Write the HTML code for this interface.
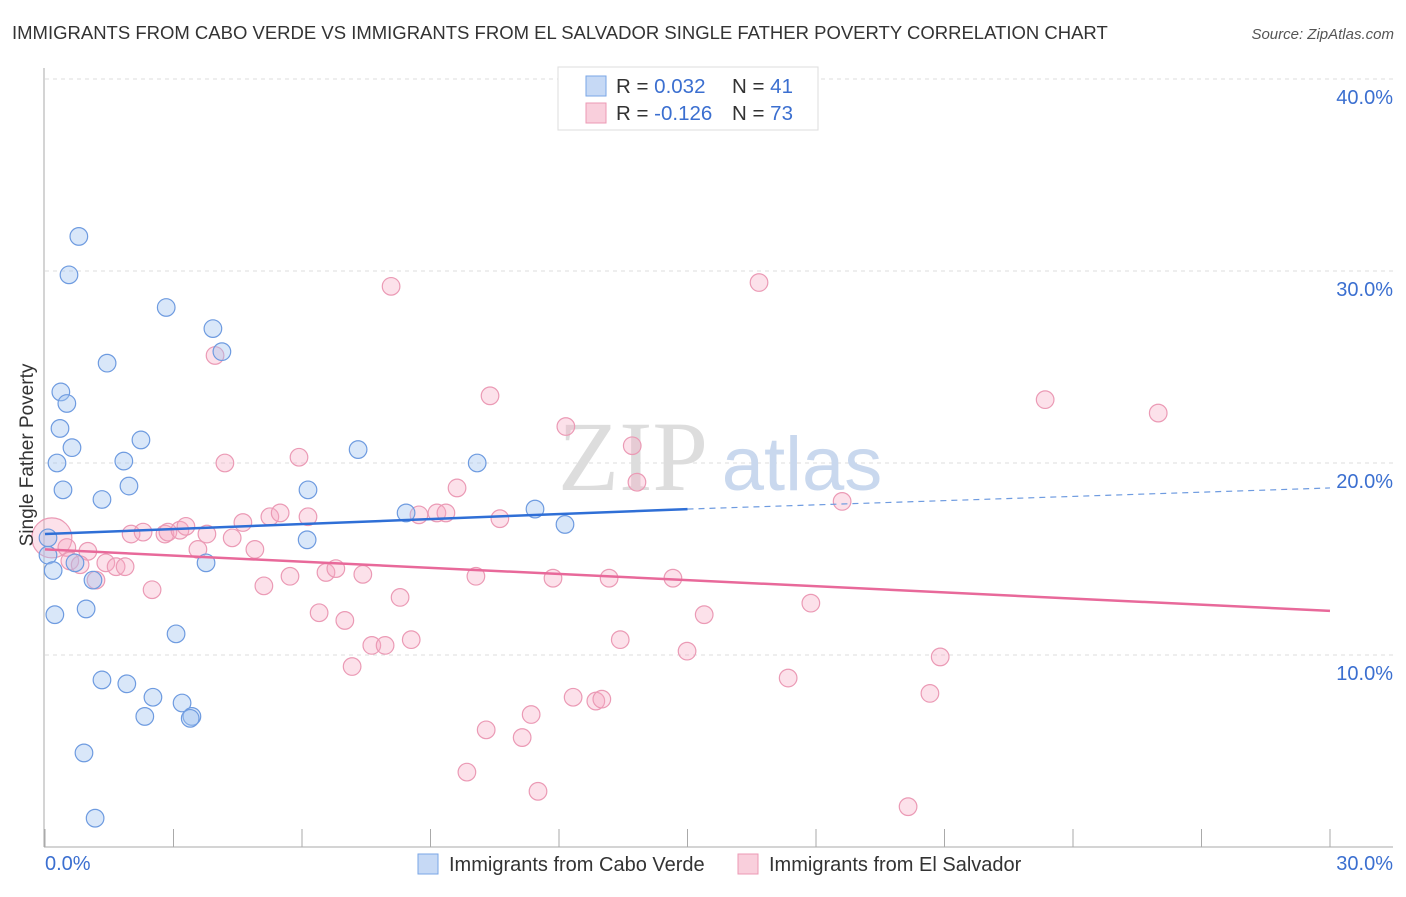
<!DOCTYPE html>
<html><head><meta charset="utf-8"><style>
body{margin:0;background:#fff;font-family:"Liberation Sans",sans-serif}
svg text{font-family:"Liberation Sans",sans-serif}
</style></head><body>
<svg width="1406" height="892" xmlns="http://www.w3.org/2000/svg">
<text x="12" y="39" font-size="18.5" fill="#333">IMMIGRANTS FROM CABO VERDE VS IMMIGRANTS FROM EL SALVADOR SINGLE FATHER POVERTY CORRELATION CHART</text>
<text x="1394" y="39" font-size="15" fill="#555" font-style="italic" text-anchor="end">Source: ZipAtlas.com</text>
<g id="grid"></g>
<text x="633" y="490" font-size="100" fill="#ddd" text-anchor="middle" style="font-family:'Liberation Serif',serif">ZIP</text>
<text x="802" y="490" font-size="76" fill="#c9d8ee" text-anchor="middle">atlas</text>
<g id="marks"></g>
<text x="33" y="455" font-size="19" fill="#333" text-anchor="middle" transform="rotate(-90 33 455)">Single Father Poverty</text>
<g>
<rect x="558" y="67" width="260" height="63" fill="#fff" stroke="#ddd"/>
<rect x="586" y="76" width="20" height="20" fill="#c6d9f5" stroke="#7aa6e6"/>
<rect x="586" y="103" width="20" height="20" fill="#f9cfdc" stroke="#ec9ab4"/>
<text x="616" y="93" font-size="20.5" fill="#333">R = <tspan fill="#3b6fd0">0.032</tspan><tspan x="732">N = </tspan><tspan fill="#3b6fd0">41</tspan></text>
<text x="616" y="120" font-size="20.5" fill="#333">R = <tspan fill="#3b6fd0">-0.126</tspan><tspan x="732">N = </tspan><tspan fill="#3b6fd0">73</tspan></text>
</g>
<g>
<rect x="418" y="854" width="20" height="20" fill="#c6d9f5" stroke="#7aa6e6"/>
<text x="449" y="871" font-size="20" fill="#333">Immigrants from Cabo Verde</text>
<rect x="738" y="854" width="20" height="20" fill="#f9cfdc" stroke="#ec9ab4"/>
<text x="769" y="871" font-size="20" fill="#333">Immigrants from El Salvador</text>
</g>
</svg>
<script>
const blueX=[0.79,0.56,2.83,3.92,4.13,1.45,0.37,0.51,0.35,0.63,2.24,0.28,1.84,7.31,10.09,0.42,1.96,1.33,6.14,8.43,11.44,12.14,0.07,6.12,0.07,0.70,0.19,1.12,3.76,0.23,0.96,3.06,1.33,1.91,2.52,3.20,2.33,3.43,3.39,0.91,1.17];
const blueY=[31.8,29.8,28.1,27.0,25.8,25.2,23.7,23.1,21.8,20.8,21.2,20.0,20.1,20.7,20.0,18.6,18.8,18.1,18.6,17.4,17.6,16.8,16.1,16.0,15.2,14.8,14.4,13.9,14.8,12.1,12.4,11.1,8.7,8.5,7.8,7.5,6.8,6.8,6.7,4.9,1.5];
const pinkX=[8.08,16.67,3.97,10.39,23.35,25.99,12.16,13.71,4.20,5.93,13.82,9.62,18.61,0.16,5.25,5.49,6.14,4.62,8.73,9.15,9.36,10.62,2.01,2.29,2.80,2.87,3.15,3.29,3.78,4.37,3.57,4.90,0.51,1.00,0.58,0.82,1.42,1.66,1.87,1.19,2.50,5.11,5.72,6.56,6.79,7.42,10.06,11.86,13.17,14.66,8.29,6.40,7.00,7.63,7.94,8.55,13.43,15.39,17.88,14.99,20.90,7.17,17.35,12.33,12.86,13.0,20.66,11.35,10.30,11.14,9.85,11.51,20.15];
const pinkY=[29.2,29.4,25.6,23.5,23.3,22.6,21.9,20.9,20.0,20.3,19.0,18.7,18.0,16.1,17.2,17.4,17.2,16.9,17.3,17.4,17.4,17.1,16.3,16.4,16.3,16.4,16.5,16.7,16.3,16.1,15.5,15.5,15.6,15.4,14.9,14.7,14.8,14.6,14.6,13.9,13.4,13.6,14.1,14.3,14.5,14.2,14.1,14.0,14.0,14.0,13.0,12.2,11.8,10.5,10.5,10.8,10.8,12.1,12.7,10.2,9.9,9.4,8.8,7.8,7.6,7.7,8.0,6.9,6.1,5.7,3.9,2.9,2.1];
const blueTrend=[16.3,17.6,18.7]; // at x=0,15,30
const pinkTrend=[15.5,12.3]; // at x=0,30
const yTicks=[10,20,30,40];
const yTickLabels=["10.0%","20.0%","30.0%","40.0%"];
const xTicks=[0,3,6,9,12,15,18,21,24,27,30];
const NS="http://www.w3.org/2000/svg";
const sx=v=>45+v*42.833, sy=v=>847-v*19.2;
function mk(t,a,p){const e=document.createElementNS(NS,t);for(const k in a)e.setAttribute(k,a[k]);p.appendChild(e);return e;}
const g=document.getElementById('grid'), m=document.getElementById('marks');
yTicks.forEach((v,i)=>{
 const l=mk('line',{x1:45,x2:1393,y1:sy(v),y2:sy(v),stroke:'#ddd','stroke-dasharray':'4,4'},g);
 
 
 const t=mk('text',{x:1393,y:sy(v)+25,'font-size':20,fill:'#3b6fd0','text-anchor':'end'},g);
 t.textContent=yTickLabels[i];
 
 
});
const ax=mk('line',{x1:44,x2:44,y1:68,y2:847,stroke:'#aaa'},g);


const bx=mk('line',{x1:44,x2:1393,y1:847,y2:847,stroke:'#aaa'},g);


xTicks.forEach(v=>{
 const l=mk('line',{x1:sx(v),x2:sx(v),y1:829,y2:847,stroke:'#aaa'},g);
 
 
});
const x0=mk('text',{x:45,y:870,'font-size':20,fill:'#3b6fd0'},g);x0.textContent='0.0%';


const x1=mk('text',{x:1393,y:870,'font-size':20,fill:'#3b6fd0','text-anchor':'end'},g);x1.textContent='30.0%';


pinkX.forEach((x,i)=>{
 const c=mk('circle',{cx:sx(x),cy:sy(pinkY[i]),r:i==13?20:8.8,fill:'rgba(246,170,195,0.35)',stroke:'#eb9ab5','stroke-width':1.2},m);
 
 
});
blueX.forEach((x,i)=>{
 const c=mk('circle',{cx:sx(x),cy:sy(blueY[i]),r:8.8,fill:'rgba(160,195,240,0.4)',stroke:'#6e9be0','stroke-width':1.2},m);
 
 
});
const b1=mk('line',{x1:sx(0),y1:sy(blueTrend[0]),x2:sx(15),y2:sy(blueTrend[1]),stroke:'#2f6fd6','stroke-width':2.5},m);


const b2=mk('line',{x1:sx(15),y1:sy(blueTrend[1]),x2:sx(30),y2:sy(blueTrend[2]),stroke:'#6e9be0','stroke-width':1.2,'stroke-dasharray':'6,5'},m);


const p1=mk('line',{x1:sx(0),y1:sy(pinkTrend[0]),x2:sx(30),y2:sy(pinkTrend[1]),stroke:'#e8699a','stroke-width':2.5},m);


</script>
</body></html>
